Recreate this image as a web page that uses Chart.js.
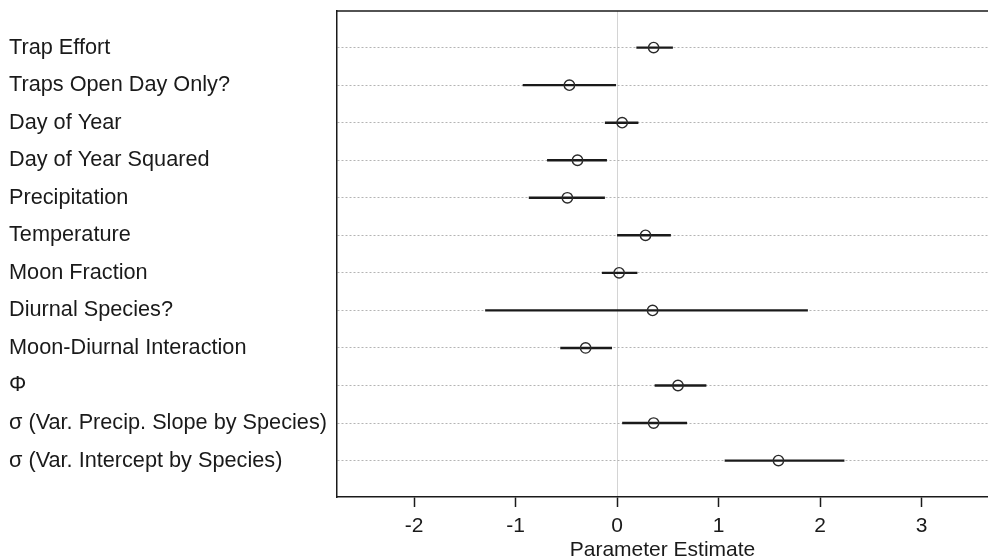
<!DOCTYPE html>
<html>
<head>
<meta charset="utf-8">
<script src="https://cdn.jsdelivr.net/npm/chart.js@4"></script>
<style>
  html, body { margin: 0; padding: 0; background: #fff; }
  #wrap { width: 988px; height: 557px; }
</style>
</head>
<body>
<div id="wrap"><canvas id="c"></canvas></div>
<script>
/* coefficient plot: estimate + interval per parameter */

const rowLabels = [
  "Trap Effort",
  "Traps Open Day Only?",
  "Day of Year",
  "Day of Year Squared",
  "Precipitation",
  "Temperature",
  "Moon Fraction",
  "Diurnal Species?",
  "Moon-Diurnal Interaction",
  "Φ",
  "σ (Var. Precip. Slope by Species)",
  "σ (Var. Intercept by Species)",
];
const estimates = [0.36, -0.47, 0.05, -0.39, -0.49, 0.28, 0.02, 0.35, -0.31, 0.60, 0.36, 1.59];
const lower     = [0.19, -0.93, -0.12, -0.69, -0.87, 0.00, -0.15, -1.30, -0.56, 0.37, 0.05, 1.06];
const upper     = [0.55, -0.01, 0.21, -0.10, -0.12, 0.53, 0.20, 1.88, -0.05, 0.88, 0.69, 2.24];
const xTicks = [-2, -1, 0, 1, 2, 3];

const FONT = "'Liberation Sans', Arial, Helvetica, sans-serif";
const INK = "#1a1a1a";

const intervalSets = rowLabels.map((_, i) => ({
  type: "scatter",
  showLine: true,
  data: [{ x: lower[i], y: i + 1 }, { x: upper[i], y: i + 1 }],
  borderColor: INK,
  borderWidth: 2.4,
  pointRadius: 0,
  order: 2,
}));

const pointSet = {
  type: "scatter",
  data: estimates.map((v, i) => ({ x: v, y: i + 1 })),
  pointStyle: "circle",
  pointRadius: 5.2,
  borderColor: "#2a2a2a",
  borderWidth: 1.4,
  backgroundColor: "rgba(0,0,0,0)",
  order: 1,
};

// top edge of the box (no right edge visible in the reference)
const frameTop = {
  id: "frameTop",
  afterDraw(chart) {
    const { ctx, chartArea: a } = chart;
    ctx.save();
    ctx.strokeStyle = INK;
    ctx.lineWidth = 1.5;
    ctx.beginPath();
    ctx.moveTo(a.left, a.top);
    ctx.lineTo(a.right, a.top);
    ctx.stroke();
    ctx.restore();
  },
};

new Chart(document.getElementById("c"), {
  type: "scatter",
  data: { datasets: [...intervalSets, pointSet] },
  plugins: [frameTop],
  options: {
    responsive: true,
    maintainAspectRatio: false,
    animation: false,
    layout: { autoPadding: false, padding: { left: 9, top: 11, right: 0, bottom: 0 } },
    plugins: { legend: { display: false }, tooltip: { enabled: false } },
    scales: {
      x: {
        type: "linear",
        min: -2.76,
        max: 3.655,
        afterBuildTicks: (s) => { s.ticks = xTicks.map((v) => ({ value: v })); },
        afterFit: (s) => { s.height = 60; s.paddingLeft = 0; s.paddingRight = 0; },
        ticks: { color: INK, font: { family: FONT, size: 21 }, padding: 7 },
        grid: {
          color: (c) => (c.tick && c.tick.value === 0 ? "#d4d4d4" : "rgba(0,0,0,0)"),
          lineWidth: 1,
          tickColor: INK,
          tickWidth: 1.5,
          tickLength: 10,
        },
        border: { display: true, color: INK, width: 1.5 },
        title: {
          display: true,
          text: "Parameter Estimate",
          color: INK,
          font: { family: FONT, size: 21 },
          padding: { top: 0, bottom: -6 },
        },
      },
      y: {
        type: "linear",
        reverse: true,
        min: 0.025,
        max: 12.97,
        afterBuildTicks: (s) => { s.ticks = rowLabels.map((_, i) => ({ value: i + 1 })); },
        afterFit: (s) => { s.width = 328; s.paddingTop = 0; s.paddingBottom = 0; },
        ticks: {
          crossAlign: "far",
          color: INK,
          font: { family: FONT, size: 21.7 },
          callback: (v) => rowLabels[v - 1] ?? "",
        },
        grid: {
          color: "#b4b4b4",
          lineWidth: 1,
          drawTicks: false,
        },
        // dotted horizontals for each row
        border: { display: true, color: INK, width: 1.5, dash: [2, 2] },
      },
    },
  },
});
</script>
</body>
</html>
